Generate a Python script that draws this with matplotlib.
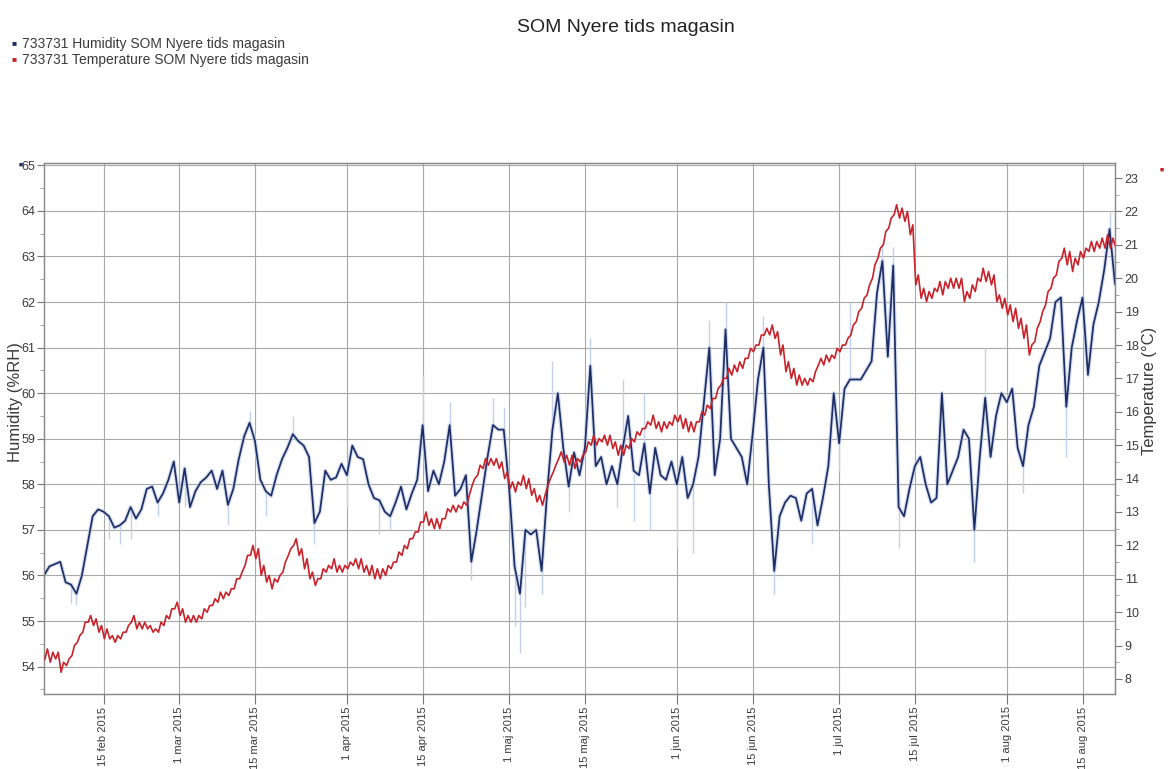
import numpy as np
import pandas as pd
import matplotlib
matplotlib.use("Agg")
import matplotlib.pyplot as plt
from matplotlib.ticker import MultipleLocator

plt.rcParams['font.family'] = ['Liberation Sans', 'DejaVu Sans']

# ---------------- data ----------------
start_date = "2015-02-04"

humidity = [
    56.0, 56.2, 56.25, 56.3, 55.85, 55.8, 55.6, 56.0, 56.65, 57.3,
    57.45, 57.4, 57.3, 57.05, 57.1, 57.2, 57.5, 57.25, 57.45, 57.9,
    57.95, 57.6, 57.8, 58.1, 58.5, 57.6, 58.35, 57.5, 57.85, 58.05,
    58.15, 58.3, 57.9, 58.3, 57.55, 57.9, 58.55, 59.05, 59.35, 58.95,
    58.1, 57.85, 57.75, 58.2, 58.55, 58.8, 59.1, 58.95, 58.85, 58.6,
    57.15, 57.4, 58.3, 58.1, 58.15, 58.45, 58.2, 58.85, 58.6, 58.55,
    58.0, 57.7, 57.65, 57.4, 57.3, 57.6, 57.95, 57.45, 57.8, 58.1,
    59.3, 57.85, 58.3, 58.0, 58.5, 59.3, 57.75, 57.9, 58.2, 56.3,
    57.0, 57.8, 58.6, 59.3, 59.2, 59.2, 57.9, 56.2, 55.6, 57.0,
    56.9, 57.0, 56.1, 57.8, 59.2, 60.0, 58.8, 57.95, 58.7, 58.2,
    58.8, 60.6, 58.4, 58.6, 58.0, 58.4, 58.0, 58.8, 59.5, 58.3,
    58.2, 58.9, 57.8, 58.8, 58.2, 58.1, 58.5, 58.0, 58.6, 57.7,
    58.0, 58.6, 59.8, 61.0, 58.2, 59.0, 61.4, 59.0, 58.8, 58.6,
    58.0, 59.1, 60.3, 61.0, 58.0, 56.1, 57.3, 57.6, 57.75, 57.7,
    57.2, 57.8, 57.9, 57.1, 57.7, 58.4, 60.0, 58.9, 60.1, 60.3,
    60.3, 60.3, 60.5, 60.7, 62.2, 62.9, 60.8, 62.8, 57.5, 57.3,
    57.9, 58.4, 58.6, 58.0, 57.6, 57.7, 60.0, 58.0, 58.3, 58.6,
    59.2, 59.0, 57.0, 58.6, 59.9, 58.6, 59.5, 60.0, 59.8, 60.1,
    58.8, 58.4, 59.3, 59.7, 60.6, 60.9, 61.2, 62.0, 62.1, 59.7,
    61.0, 61.6, 62.1, 60.4, 61.5, 62.0, 62.7, 63.6, 62.4,
]

temp_high = [
    8.9, 8.8, 8.8, 8.5, 8.6, 9.0, 9.3, 9.7, 9.9, 9.8,
    9.6, 9.5, 9.3, 9.3, 9.4, 9.6, 9.9, 9.7, 9.7, 9.6,
    9.5, 9.7, 9.9, 10.1, 10.3, 10.1, 9.9, 9.9, 9.9, 10.1,
    10.2, 10.4, 10.6, 10.6, 10.7, 11.0, 11.2, 11.7, 12.0, 11.9,
    11.4, 11.1, 11.0, 11.1, 11.5, 11.9, 12.2, 11.9, 11.6, 11.2,
    11.0, 11.3, 11.4, 11.6, 11.4, 11.4, 11.5, 11.6, 11.6, 11.4,
    11.4, 11.3, 11.3, 11.4, 11.5, 11.8, 12.0, 12.2, 12.4, 12.7,
    13.0, 12.8, 12.8, 12.8, 13.1, 13.2, 13.2, 13.3, 13.5, 14.0,
    14.4, 14.6, 14.6, 14.6, 14.5, 14.2, 13.9, 13.9, 14.1, 14.0,
    13.7, 13.5, 13.5, 14.0, 14.4, 14.8, 14.7, 14.7, 14.6, 14.7,
    15.1, 15.3, 15.2, 15.3, 15.3, 15.1, 15.0, 15.0, 15.2, 15.4,
    15.5, 15.7, 15.9, 15.7, 15.7, 15.7, 15.9, 15.9, 15.8, 15.7,
    15.7, 16.0, 16.2, 16.4, 16.7, 17.0, 17.3, 17.4, 17.5, 17.6,
    17.9, 18.0, 18.3, 18.5, 18.6, 18.4, 18.0, 17.5, 17.3, 17.1,
    17.0, 17.0, 17.2, 17.6, 17.7, 17.7, 17.9, 18.0, 18.2, 18.6,
    19.0, 19.4, 19.8, 20.4, 20.9, 21.4, 21.8, 22.2, 22.1, 22.0,
    21.6, 20.1, 19.7, 19.6, 19.7, 19.9, 19.9, 20.0, 20.0, 20.0,
    19.6, 19.8, 20.0, 20.3, 20.2, 20.1, 19.5, 19.4, 19.2, 19.1,
    18.8, 18.6, 18.0, 18.5, 19.0, 19.6, 20.0, 20.5, 20.9, 20.8,
    20.6, 20.8, 20.9, 21.1, 21.1, 21.2, 21.3, 21.2, 21.2,
]

temp_low = [
    8.6, 8.5, 8.6, 8.2, 8.4, 8.7, 9.1, 9.4, 9.7, 9.6,
    9.4, 9.2, 9.2, 9.1, 9.2, 9.4, 9.7, 9.5, 9.5, 9.5,
    9.4, 9.4, 9.6, 9.8, 10.1, 9.9, 9.7, 9.7, 9.7, 9.8,
    10.0, 10.2, 10.3, 10.4, 10.5, 10.7, 11.0, 11.4, 11.7, 11.6,
    11.1, 10.9, 10.7, 10.9, 11.2, 11.7, 12.0, 11.7, 11.3, 11.0,
    10.8, 11.0, 11.2, 11.3, 11.2, 11.2, 11.3, 11.4, 11.3, 11.2,
    11.1, 11.0, 11.0, 11.1, 11.3, 11.5, 11.7, 11.9, 12.2, 12.4,
    12.7, 12.6, 12.5, 12.5, 12.8, 13.0, 13.0, 13.1, 13.2, 13.8,
    14.1, 14.3, 14.4, 14.4, 14.3, 14.0, 13.7, 13.6, 13.8, 13.7,
    13.5, 13.3, 13.2, 13.8, 14.2, 14.6, 14.5, 14.4, 14.3, 14.5,
    14.8, 15.0, 15.0, 15.1, 15.0, 14.9, 14.7, 14.7, 14.9, 15.1,
    15.3, 15.5, 15.6, 15.5, 15.4, 15.5, 15.6, 15.7, 15.5, 15.4,
    15.4, 15.7, 15.9, 16.1, 16.4, 16.8, 17.0, 17.1, 17.2, 17.3,
    17.6, 17.8, 18.0, 18.3, 18.3, 18.2, 17.7, 17.2, 17.0, 16.8,
    16.8, 16.8, 16.9, 17.4, 17.4, 17.5, 17.6, 17.8, 18.0, 18.3,
    18.7, 19.1, 19.5, 20.0, 20.6, 21.0, 21.5, 21.9, 21.8, 21.7,
    21.3, 19.8, 19.4, 19.3, 19.4, 19.6, 19.5, 19.7, 19.7, 19.7,
    19.3, 19.4, 19.6, 19.9, 19.9, 19.8, 19.3, 19.1, 18.9, 18.7,
    18.5, 18.2, 17.7, 18.1, 18.7, 19.2, 19.7, 20.1, 20.6, 20.4,
    20.2, 20.4, 20.6, 20.8, 20.8, 20.9, 20.9, 20.9, 20.9,
]

# faint raw-reading spikes around the humidity line (day offset, value)
spike_day = [0, 5, 6, 12, 14, 16, 21, 26, 34, 38, 41, 46, 50, 56, 62, 64,
             70, 75, 79, 83, 85, 87, 88, 89, 92, 94, 97, 101, 106, 107, 109,
             111, 112, 117, 120, 123, 126, 133, 135, 142, 147, 149, 155, 157,
             158, 172, 174, 181, 189, 197]
spike_value = [55.5, 55.4, 55.35, 56.8, 56.7, 56.8, 57.3, 57.5, 57.1, 59.6,
               57.3, 59.5, 56.7, 57.5, 56.9, 57.0, 60.4, 59.8, 55.9, 59.9,
               59.7, 54.9, 54.3, 55.3, 55.6, 60.7, 57.4, 61.2, 57.5, 60.3,
               57.2, 60.0, 57.0, 56.6, 56.5, 61.6, 62.0, 61.7, 55.6, 56.7,
               58.3, 62.0, 63.3, 63.2, 56.6, 56.3, 61.0, 57.8, 58.6, 64.0]

tick_dates = ["2015-02-15", "2015-03-01", "2015-03-15", "2015-04-01",
              "2015-04-15", "2015-05-01", "2015-05-15", "2015-06-01",
              "2015-06-15", "2015-07-01", "2015-07-15", "2015-08-01",
              "2015-08-15"]
tick_labels = ["15 feb 2015", "1 mar 2015", "15 mar 2015", "1 apr 2015",
               "15 apr 2015", "1 maj 2015", "15 maj 2015", "1 jun 2015",
               "15 jun 2015", "1 jul 2015", "15 jul 2015", "1 aug 2015",
               "15 aug 2015"]

hum_ticks = list(range(54, 66))
temp_ticks = list(range(8, 24))

# ---------------- drawing ----------------
NAVY = "#1e2d63"
HALO = "#c3d0ea"
RED = "#c8232b"
GRID = "#a8a8a8"
TXT = "#3a3a3a"

start = pd.Timestamp(start_date)
days = pd.date_range(start, periods=len(humidity), freq="D")
t_times = np.column_stack((np.asarray(days + pd.Timedelta(hours=4)),
                           np.asarray(days + pd.Timedelta(hours=15)))).ravel()
t_vals = np.column_stack((temp_low, temp_high)).ravel()

W, H = 1169, 769
fig = plt.figure(figsize=(W / 100, H / 100), dpi=100)
L, R, T, B = 44, 1115, 163, 694
ax = fig.add_axes([L / W, 1 - B / H, (R - L) / W, (B - T) / H])
ax2 = ax.twinx()

ax.set_xlim(start, start + pd.Timedelta(days=198))
ax.set_ylim(53.4, 65.05)
ax2.set_ylim(7.55, 23.45)

# grid
ax.set_yticks(hum_ticks)
ax.set_xticks(pd.to_datetime(tick_dates))
ax.grid(True, color=GRID, lw=0.8)
ax.set_axisbelow(True)

# humidity
sp_dates = [days[d] for d in spike_day]
sp_base = [humidity[d] for d in spike_day]
ax.vlines(sp_dates, sp_base, spike_value, color=HALO, lw=1.0, zorder=2)
ax.plot(days, humidity, color=HALO, lw=3.0, alpha=0.7, zorder=2,
        solid_joinstyle="round")
ax.plot(days, humidity, color=NAVY, lw=1.25, zorder=3)

# temperature
ax2.plot(t_times, t_vals, color=RED, lw=1.2, zorder=3)

# axes styling
for a in (ax, ax2):
    for s in a.spines.values():
        s.set_color("#8a8a8a")
        s.set_linewidth(0.9)

ax.set_xticklabels(tick_labels, rotation=90, fontsize=8, color=TXT)
ax.tick_params(axis="x", length=7, color="#777", pad=2)
ax.tick_params(axis="y", length=5, color="#777", labelsize=9, labelcolor=TXT,
               pad=1)
ax.yaxis.set_minor_locator(MultipleLocator(0.5))
ax.tick_params(axis="y", which="minor", length=3, color="#999")

ax2.set_yticks(temp_ticks)
ax2.tick_params(axis="y", length=5, color="#777", labelsize=9, labelcolor=TXT,
                pad=2)
ax2.yaxis.set_minor_locator(MultipleLocator(0.5))
ax2.tick_params(axis="y", which="minor", length=3, color="#999")

ax.set_ylabel("Humidity (%RH)", fontsize=12, color=TXT)
ax.yaxis.set_label_coords((23 - L) / (R - L), 0.55)
ax2.set_ylabel("Temperature (°C)", fontsize=12, color=TXT)
ax2.yaxis.set_label_coords((1142 - L) / (R - L), 0.57)

# title and legend
fig.text(0.535, 1 - 28 / H, "SOM Nyere tids magasin", ha="center",
         va="center", fontsize=14, color="#222")
fig.text(12 / W, 1 - 44 / H, "\u25A0", color=NAVY, fontsize=6, va="center")
fig.text(12 / W, 1 - 60 / H, "\u25A0", color=RED, fontsize=6, va="center")
fig.text(22 / W, 1 - 44 / H, "733731 Humidity SOM Nyere tids magasin",
         fontsize=10, color=TXT, va="center")
fig.text(22 / W, 1 - 60 / H, "733731 Temperature SOM Nyere tids magasin",
         fontsize=10, color=TXT, va="center")
fig.text(19 / W, 1 - 165 / H, "\u25A0", color=NAVY, fontsize=5, va="center")
fig.text(1160 / W, 1 - 170 / H, "\u25A0", color=RED, fontsize=5, va="center")

fig.savefig("out.png", dpi=100, facecolor="white")
